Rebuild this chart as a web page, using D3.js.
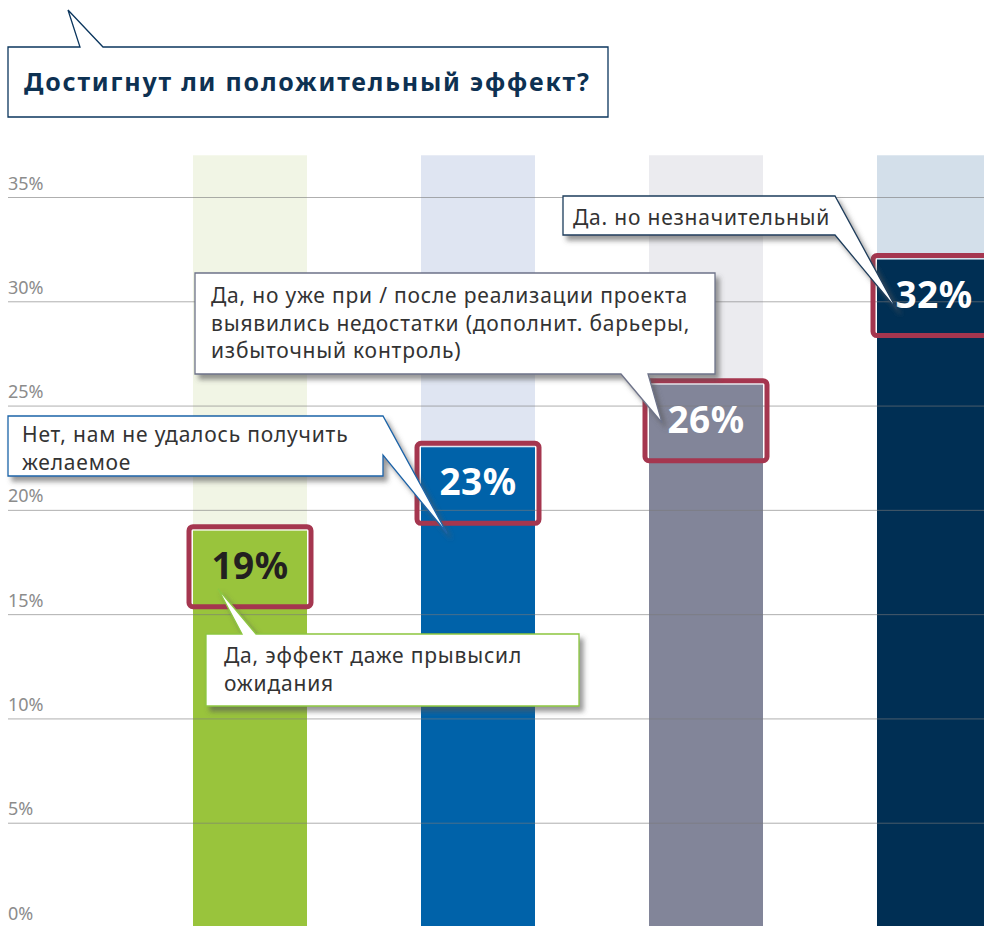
<!DOCTYPE html>
<html>
<head>
<meta charset="utf-8">
<script src="https://cdn.jsdelivr.net/npm/d3@7"></script>
<style>
  body { margin: 0; background: #fff; }
  svg { display: block; font-family: "Noto Sans", "Open Sans", sans-serif; }
</style>
</head>
<body>
<div id="chart"></div>
<script>
// data
const categories = ["effect", "fail", "drawbacks", "minor"];
const values = [19, 23, 26, 32];
const labelLines = [
    ["Да, эффект даже прывысил", "ожидания"],
    ["Нет, нам не удалось получить", "желаемое"],
    ["Да, но уже при / после реализации проекта", "выявились недостатки (дополнит. барьеры,", "избыточный контроль)"],
    ["Да. но незначительный"]
];
const tickValues = [0, 5, 10, 15, 20, 25, 30, 35];
const title = "Достигнут ли положительный эффект?";

const width = 984;
const height = 926;

const barColors = ["#99c43c", "#0062a9", "#828599", "#002f54"];
const bandColors = ["#f1f5e5", "#dfe5f2", "#ebebef", "#d3dfea"];
const valueColors = ["#231f20", "#fff", "#fff", "#fff"];

const svg = d3.select("#chart").append("svg")
    .attr("width", width)
    .attr("height", height);

const defs = svg.append("defs");
const shadow = defs.append("filter")
    .attr("id", "shadow")
    .attr("x", "-10%").attr("y", "-20%")
    .attr("width", "130%").attr("height", "160%");
shadow.append("feDropShadow")
    .attr("dx", 4).attr("dy", 5)
    .attr("stdDeviation", 2.5)
    .attr("flood-color", "#555")
    .attr("flood-opacity", 0.6);

// scales
const x = d3.scaleBand()
    .domain(categories)
    .range([136, 1048])
    .paddingInner(0.5)
    .paddingOuter(0.25);

const y = d3.scaleLinear()
    .domain([0, 35])
    .range([927, 197]);

const bandTop = 37; // light column background reaches a bit above 35%

// light background columns
svg.append("g").selectAll("rect")
    .data(categories)
    .enter().append("rect")
    .attr("x", d => x(d))
    .attr("y", y(bandTop))
    .attr("width", x.bandwidth())
    .attr("height", y(0) - y(bandTop))
    .style("fill", (d, i) => bandColors[i]);

// bars
svg.append("g").selectAll("rect")
    .data(categories)
    .enter().append("rect")
    .attr("x", d => x(d))
    .attr("y", (d, i) => y(values[i]))
    .attr("width", x.bandwidth())
    .attr("height", (d, i) => y(0) - y(values[i]))
    .style("fill", (d, i) => barColors[i]);

// grid + tick labels
const yAxis = svg.append("g")
    .attr("transform", "translate(8,0)")
    .call(d3.axisRight(y).tickValues(tickValues).tickSize(width).tickFormat(d => d + "%"));
yAxis.select(".domain").remove();
yAxis.selectAll("line")
    .style("stroke", "#7a7a7a")
    .style("stroke-opacity", 0.6);
yAxis.selectAll("text")
    .attr("x", 0)
    .attr("dy", -8)
    .attr("text-anchor", "start")
    .style("font-family", "Noto Sans")
    .style("font-size", "18px")
    .style("fill", "#8c8c8c");

// value boxes
const boxes = svg.append("g");
boxes.selectAll("rect")
    .data(categories)
    .enter().append("rect")
    .attr("x", d => x(d) - 4)
    .attr("y", (d, i) => y(values[i]) - 4)
    .attr("width", x.bandwidth() + 8)
    .attr("height", 80)
    .attr("rx", 4)
    .style("fill", "none")
    .style("stroke", "#a5364f")
    .style("stroke-width", 5);

boxes.selectAll("text")
    .data(categories)
    .enter().append("text")
    .attr("x", d => x(d) + x.bandwidth() / 2)
    .attr("y", (d, i) => y(values[i]) + 48)
    .attr("text-anchor", "middle")
    .style("font-size", "37px")
    .style("font-weight", "bold")
    .style("letter-spacing", "0.5px")
    .style("fill", (d, i) => valueColors[i])
    .text((d, i) => values[i] + "%");

// callouts: box + pointer, pointer tip relative to the bar top
function calloutPath(b, tip) {
    const pts = [];
    const { x0, y0, x1, y1, side, p0, p1 } = b;
    if (side === "top") {
        pts.push([x0, y0], [p0, y0], tip, [p1, y0], [x1, y0], [x1, y1], [x0, y1]);
    } else if (side === "right") {
        pts.push([x0, y0], [x1, y0], tip, [x1, p1], [x1, y1], [x0, y1]);
    } else if (side === "bottom") {
        pts.push([x0, y0], [x1, y0], [x1, y1], [p1, y1], tip, [p0, y1], [x0, y1]);
    }
    return "M" + pts.map(p => p.join(",")).join("L") + "Z";
}

const callouts = [
    { x0: 206, y0: 634, x1: 579, y1: 706, side: "top", p0: 242, p1: 256, dx: 25, dy: 58, tx: 224, ty: 663, color: "#8dc63f" },
    { x0: 8, y0: 416, x1: 383, y1: 476, side: "right", p0: 416, p1: 455, dx: 26, dy: 86, tx: 22, ty: 442, color: "#1a64a8" },
    { x0: 195, y0: 273, x1: 715, y1: 374, side: "bottom", p0: 621, p1: 648, dx: 13, dy: 38, tx: 211, ty: 303, color: "#6e7389" },
    { x0: 563, y0: 196, x1: 835, y1: 235, side: "right", p0: 196, p1: 235, dx: 20, dy: 50, tx: 573, ty: 225, color: "#1d3d5c" }
];

const notes = svg.append("g");
callouts.forEach((c, i) => {
    const tip = [x(categories[i]) + c.dx, y(values[i]) + c.dy];
    notes.append("path")
        .attr("d", calloutPath(c, tip))
        .attr("filter", "url(#shadow)")
        .style("fill", "#fff")
        .style("stroke", c.color)
        .style("stroke-width", 1.3);
    notes.append("text")
        .attr("x", c.tx)
        .attr("y", c.ty)
        .style("font-size", "21px")
        .style("letter-spacing", "0.8px")
        .style("fill", "#333")
        .selectAll("tspan")
        .data(labelLines[i])
        .enter().append("tspan")
        .attr("x", c.tx)
        .attr("dy", (d, j) => j === 0 ? 0 : 27.5)
        .text(d => d);
});

// title callout
svg.append("path")
    .attr("d", "M8,47L80,47L68,10L103,47L608,47L608,117L8,117Z")
    .style("fill", "#fff")
    .style("stroke", "#0b365e")
    .style("stroke-width", 1.3);

svg.append("text")
    .attr("x", 24)
    .attr("y", 91)
    .style("font-size", "25px")
    .style("font-weight", "bold")
    .style("letter-spacing", "1.8px")
    .style("fill", "#0d3152")
    .text(title);
</script>
</body>
</html>
